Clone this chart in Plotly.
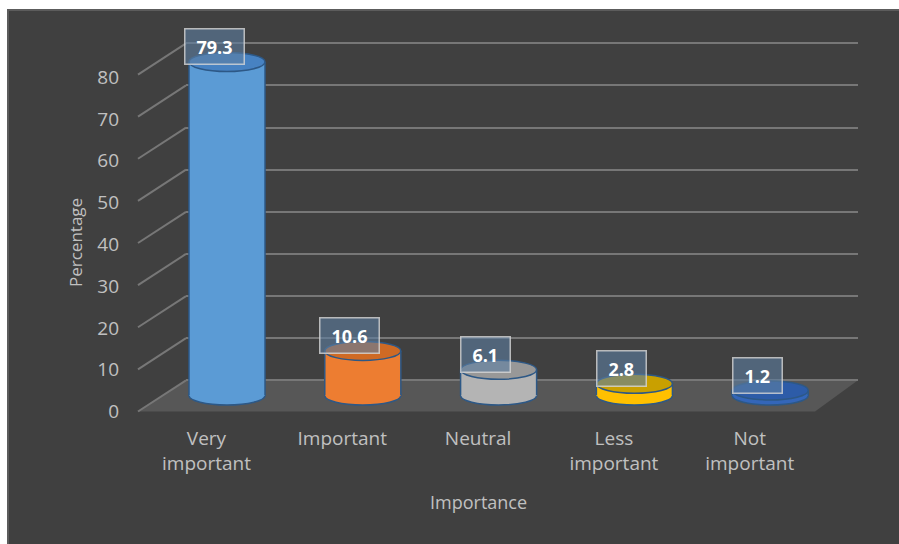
import plotly.graph_objects as go

# ---- data ----
categories = ["Very<br>important", "Important", "Neutral", "Less<br>important", "Not<br>important"]
values = [79.3, 10.6, 6.1, 2.8, 1.2]
value_labels = ["79.3", "10.6", "6.1", "2.8", "1.2"]
y_ticks = [0, 10, 20, 30, 40, 50, 60, 70, 80]

# ---- style ----
body_colors = ["#5b9bd5", "#ed7d31", "#b4b4b4", "#ffc000", "#3466b9"]
cap_colors = ["#4782c2", "#cf6a24", "#989898", "#c9a000", "#2d5ca8"]
outline = "#2d5886"
bg = "#404040"
grid_col = "#777777"
txt_col = "#c0c0c0"
FONT = "Open Sans"

W, H = 899, 544
step = 135.8          # px between categories
bar_x0 = 227          # px of first cylinder centre
lab_x0 = 206.5        # px of first category label
k_main = 4.206        # px per unit (cylinders)
base_main = 395.5     # px of value 0 (cylinder centre depth)
k_front = 4.18
base_front = 411.5
k_back = 4.212
base_back = 380.3
bar_w = 0.56          # in category units
ell_h = 9.5 / k_main  # half-height of ellipse in value units

wall_l, wall_r = 186, 858

pos = list(range(len(categories)))

fig = go.Figure()
fig.add_trace(go.Scatter(x=[], y=[], xaxis="x", yaxis="y", showlegend=False))
fig.add_trace(go.Bar(
    x=pos, y=values, width=bar_w,
    marker=dict(color=body_colors, line=dict(width=0)),
    xaxis="x2", yaxis="y2", showlegend=False, hoverinfo="skip"))
fig.add_trace(go.Scatter(x=[], y=[], xaxis="x3", yaxis="y3", showlegend=False))

shapes = []
shapes.append(dict(type="rect", xref="paper", yref="paper", x0=8 / W, x1=1.01,
                   y0=-0.01, y1=1 - 10 / H, fillcolor=bg,
                   line=dict(color="#5c5c5c", width=2), layer="below"))
depth = (base_front - base_back) / k_back
fx0, fx1, bx0, bx1 = 138 / W, 815 / W, wall_l / W, wall_r / W
shapes.append(dict(type="path", xref="paper", yref="y",
                   path=f"M {fx0},{-depth} L {fx1},{-depth} L {bx1},0 L {bx0},0 Z",
                   fillcolor="#575757", line=dict(width=0), layer="below"))
for t in y_ticks:
    shapes.append(dict(type="line", xref="paper", yref="y",
                       x0=fx0, y0=t - depth, x1=bx0, y1=t,
                       line=dict(color=grid_col, width=2), layer="below"))
for i, v in enumerate(values):
    xl, xr = pos[i] - bar_w / 2, pos[i] + bar_w / 2
    shapes.append(dict(type="circle", xref="x2", yref="y2", x0=xl, x1=xr,
                       y0=-ell_h, y1=ell_h, fillcolor=body_colors[i],
                       line=dict(color=outline, width=1.5), layer="below"))
    for xx in (xl, xr):
        shapes.append(dict(type="line", xref="x2", yref="y2", x0=xx, x1=xx,
                           y0=0, y1=v, line=dict(color=outline, width=1.5),
                           layer="above"))
    shapes.append(dict(type="circle", xref="x2", yref="y2", x0=xl, x1=xr,
                       y0=v - ell_h, y1=v + ell_h, fillcolor=cap_colors[i],
                       line=dict(color=outline, width=1.5), layer="above"))

annotations = []
for i, v in enumerate(values):
    txt = value_labels[i]
    annotations.append(dict(
        x=pos[i] - 13 / step, y=v + 15 / k_main, xref="x2", yref="y2",
        text=f"<b>{txt}</b>", showarrow=False,
        font=dict(family=FONT, size=18, color="white"),
        bgcolor="rgba(94,126,161,0.6)", bordercolor="rgba(215,215,215,0.8)",
        borderwidth=1.5, borderpad=6, height=22,
        width=len(txt.replace(".", "")) * 10.3 + 5 + 10))
annotations.append(dict(x=478 / W, y=1 - 502 / H, xref="paper", yref="paper",
                        xanchor="center", yanchor="middle",
                        text="Importance", showarrow=False,
                        font=dict(family=FONT, size=18, color=txt_col)))
annotations.append(dict(x=75 / W, y=1 - 243 / H, xref="paper", yref="paper",
                        xanchor="center", yanchor="middle",
                        text="Percentage", showarrow=False, textangle=-90,
                        font=dict(family=FONT, size=17, color=txt_col)))

dom = [wall_l / W, wall_r / W]
fig.update_layout(
    width=W, height=H, margin=dict(l=0, r=0, t=0, b=0, autoexpand=False),
    paper_bgcolor="white", plot_bgcolor="rgba(0,0,0,0)",
    showlegend=False, bargap=0,
    xaxis=dict(domain=dom, range=[0, 1], visible=False, fixedrange=True,
               automargin=False),
    yaxis=dict(domain=[0, 1], range=[(base_back - H) / k_back, base_back / k_back],
               tickvals=y_ticks, showticklabels=False, ticks="",
               showgrid=True, gridcolor=grid_col, gridwidth=2,
               zeroline=False, showline=False, fixedrange=True, automargin=False),
    xaxis2=dict(overlaying="x", anchor="y2",
                range=[(wall_l - bar_x0) / step, (wall_r - bar_x0) / step],
                visible=False, fixedrange=True, automargin=False),
    yaxis2=dict(overlaying="y", anchor="x2",
                range=[(base_main - H) / k_main, base_main / k_main],
                visible=False, fixedrange=True, automargin=False),
    xaxis3=dict(overlaying="x", anchor="free", position=1 - 425 / H,
                range=[(wall_l - lab_x0) / step, (wall_r - lab_x0) / step],
                tickvals=pos, ticktext=categories, ticks="", showgrid=False,
                zeroline=False, showline=False, automargin=False,
                tickfont=dict(family=FONT, size=19, color=txt_col)),
    yaxis3=dict(overlaying="y", anchor="free", position=119 / W, side="left",
                range=[(base_front - H) / k_front, base_front / k_front],
                tickvals=y_ticks, ticks="", showgrid=False, zeroline=False,
                showline=False, automargin=False,
                tickfont=dict(family=FONT, size=19, color=txt_col)),
    shapes=shapes, annotations=annotations,
)

fig.write_html("out.html")
